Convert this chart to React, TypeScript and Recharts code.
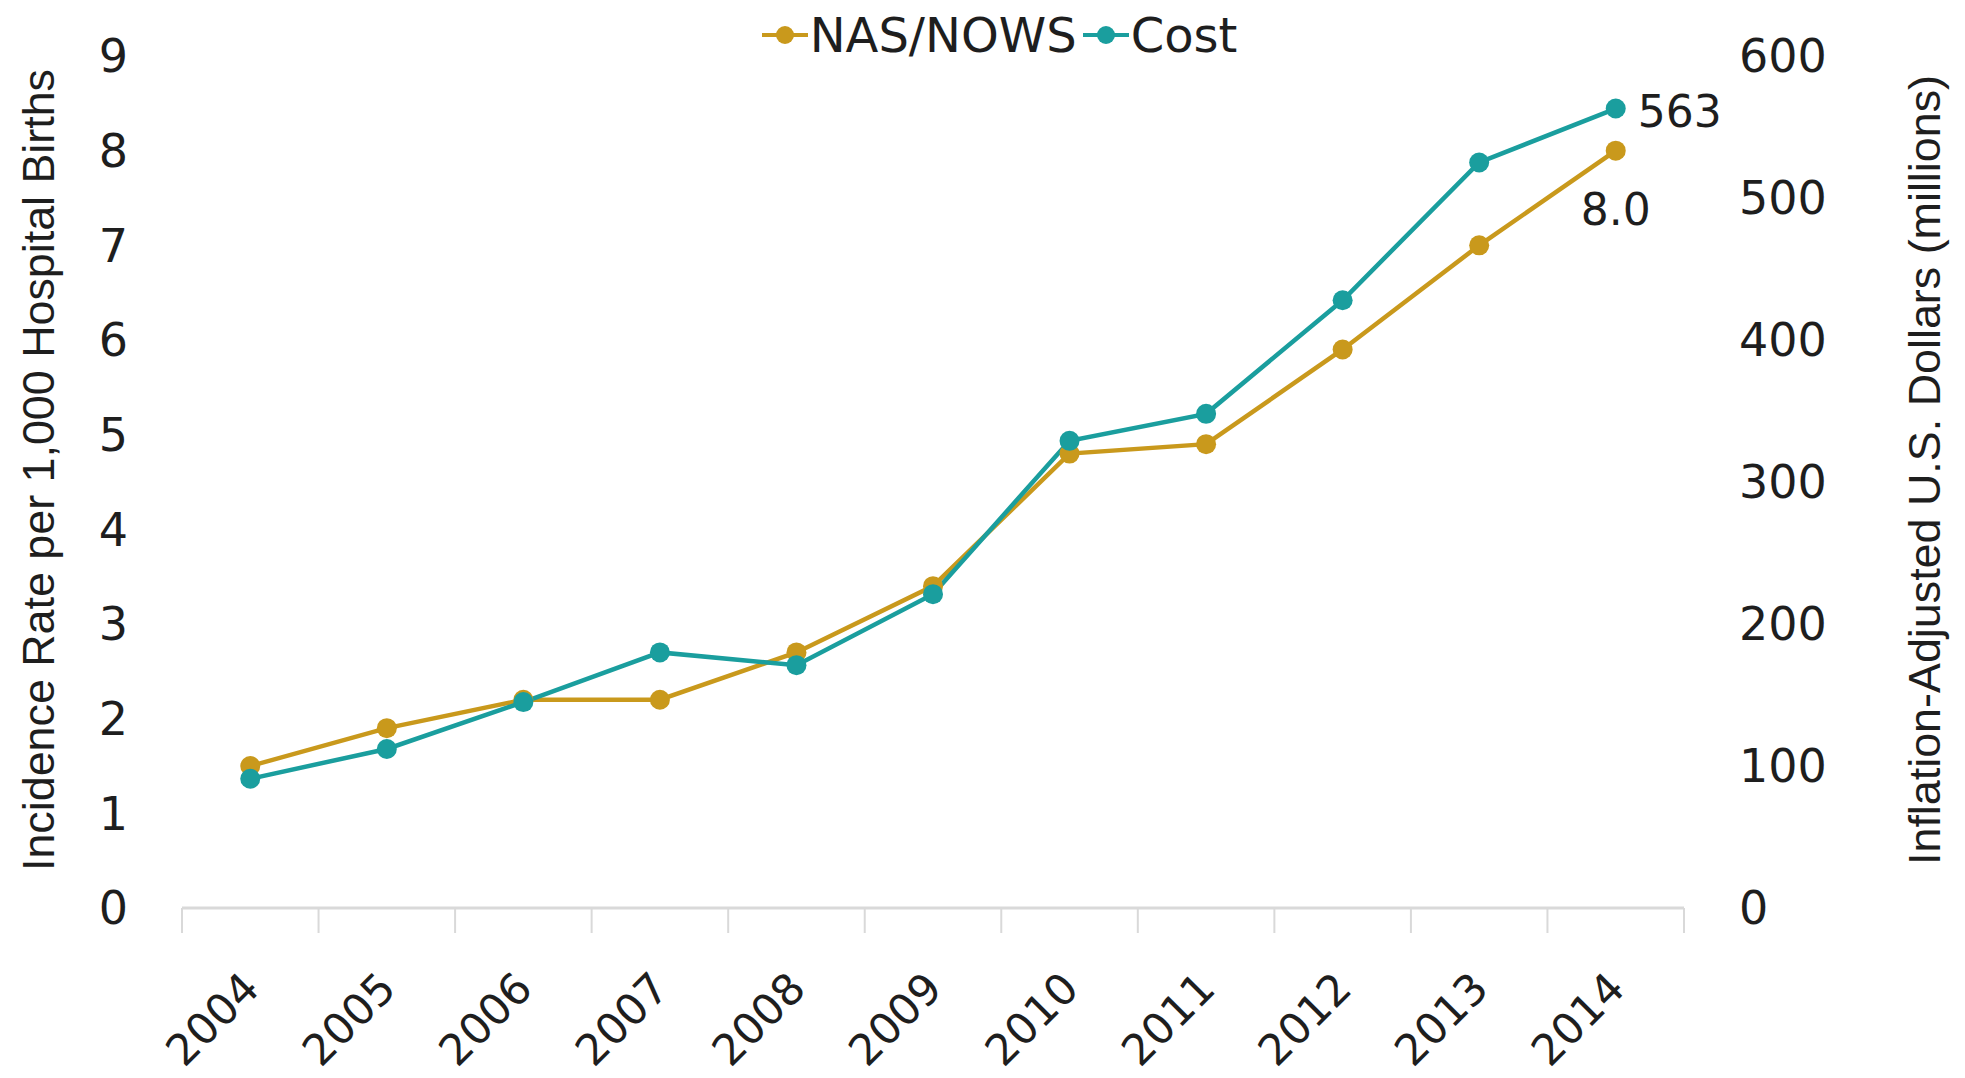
import {
  LineChart,
  Line,
  XAxis,
  YAxis,
  Legend,
} from "recharts";

const years = [2004, 2005, 2006, 2007, 2008, 2009, 2010, 2011, 2012, 2013, 2014];
const nasRate = [1.5, 1.9, 2.2, 2.2, 2.7, 3.4, 4.8, 4.9, 5.9, 7.0, 8.0];
const costMillions = [91, 112, 145, 180, 171, 221, 329, 348, 428, 525, 563];
const rateTicks = [0, 1, 2, 3, 4, 5, 6, 7, 8, 9];
const costTicks = [0, 100, 200, 300, 400, 500, 600];
// tick marks sit between years, like the original
const yearBounds = [...years.map((y) => y - 0.5), years[years.length - 1] + 0.5];

const GOLD = "#c9991c";
const TEAL = "#1a9e9e";
const TEXT = "#1e1e1e";
const AXIS = "#d9d9d9";
const TICK_FONT = "'DejaVu Sans', Verdana, sans-serif";
const TITLE_FONT = "'Liberation Sans Narrow', 'Liberation Sans', sans-serif";

const data = years.map((year, i) => ({
  year,
  nas: nasRate[i],
  cost: costMillions[i],
}));

const series = [
  { key: "nas", name: "NAS/NOWS", color: GOLD },
  { key: "cost", name: "Cost", color: TEAL },
];

function YearTick({ x, y, payload }: any) {
  return (
    <g transform={`translate(${x},${y})`}>
      <text
        x={-50}
        y={66}
        textAnchor="end"
        transform="rotate(-45)"
        fontFamily={TICK_FONT}
        fontSize={43}
        fill={TEXT}
      >
        {payload.value}
      </text>
    </g>
  );
}

function LegendContent() {
  return (
    <div
      style={{
        height: 56,
        boxSizing: "border-box",
        paddingTop: 14,
        paddingLeft: 40,
        display: "flex",
        justifyContent: "center",
        fontFamily: TICK_FONT,
        fontSize: 48,
        lineHeight: 1,
        color: TEXT,
      }}
    >
      {series.map((s) => (
        <span
          key={s.key}
          style={{ display: "flex", alignItems: "center", marginRight: 6 }}
        >
          <svg width={46} height={22} style={{ marginRight: 2 }}>
            <line x1={0} y1={11} x2={46} y2={11} stroke={s.color} strokeWidth={4} />
            <circle cx={23} cy={11} r={9} fill={s.color} />
          </svg>
          <span>{s.name}</span>
        </span>
      ))}
    </div>
  );
}

function lastLabel(offsetX: number, offsetY: number, anchor: string, format: (v: number) => string) {
  return (props: any) => {
    const { x, y, value, index } = props;
    if (index !== years.length - 1) return null;
    return (
      <text
        x={x + offsetX}
        y={y + offsetY}
        textAnchor={anchor}
        dominantBaseline="central"
        fontFamily={TICK_FONT}
        fontSize={44}
        fill={TEXT}
      >
        {format(value)}
      </text>
    );
  };
}

function AxisTitle(text: string, cx: number, length: number) {
  return (props: any) => {
    const vb = props.viewBox;
    const x = vb.x + cx;
    const y = vb.y + vb.height / 2 - 12;
    return (
      <text
        x={x}
        y={y}
        transform={`rotate(-90, ${x}, ${y})`}
        textAnchor="middle"
        dominantBaseline="central"
        fontFamily={TITLE_FONT}
        fontSize={44}
        textLength={length}
        lengthAdjust="spacingAndGlyphs"
        fill={TEXT}
      >
        {text}
      </text>
    );
  };
}

export default function App() {
  return (
    <div style={{ position: "absolute", left: 0, top: 0, background: "#fff" }}>
      <LineChart
        width={1965}
        height={1078}
        data={data}
        margin={{ top: 0, right: 0, bottom: 0, left: 0 }}
      >
        <Legend verticalAlign="top" align="center" content={<LegendContent />} />
        <XAxis
          xAxisId="bounds"
          dataKey="year"
          type="number"
          domain={[yearBounds[0], yearBounds[yearBounds.length - 1]]}
          allowDataOverflow
          ticks={yearBounds}
          interval={0}
          tick={() => <g />}
          tickSize={25}
          tickLine={{ stroke: AXIS, strokeWidth: 2 }}
          axisLine={{ stroke: AXIS, strokeWidth: 3 }}
          height={1}
        />
        <XAxis
          xAxisId="year"
          dataKey="year"
          type="number"
          domain={[yearBounds[0], yearBounds[yearBounds.length - 1]]}
          allowDataOverflow
          ticks={years}
          interval={0}
          axisLine={false}
          tickLine={false}
          tickSize={0}
          tickMargin={0}
          tick={<YearTick />}
          height={169}
        />
        <YAxis
          yAxisId="rate"
          orientation="left"
          width={182}
          domain={[0, 9]}
          ticks={rateTicks}
          interval={0}
          axisLine={false}
          tickLine={false}
          tickSize={6}
          tickMargin={48}
          tick={{ fontFamily: TICK_FONT, fontSize: 46, fill: TEXT }}
          label={{
            content: AxisTitle("Incidence Rate per 1,000 Hospital Births", 38, 802),
          }}
        />
        <YAxis
          yAxisId="cost"
          orientation="right"
          width={281}
          domain={[0, 600]}
          ticks={costTicks}
          interval={0}
          axisLine={false}
          tickLine={false}
          tickSize={6}
          tickMargin={49}
          tick={{ fontFamily: TICK_FONT, fontSize: 46, fill: TEXT }}
          label={{
            content: AxisTitle("Inflation-Adjusted U.S. Dollars (millions)", 240, 790),
          }}
        />
        <Line
          xAxisId="year"
          yAxisId="rate"
          dataKey="nas"
          name="NAS/NOWS"
          stroke={GOLD}
          strokeWidth={4.5}
          dot={{ r: 10, fill: GOLD, stroke: "none" }}
          activeDot={false}
          isAnimationActive={false}
          label={lastLabel(0, 59, "middle", (v) => v.toFixed(1))}
        />
        <Line
          xAxisId="year"
          yAxisId="cost"
          dataKey="cost"
          name="Cost"
          stroke={TEAL}
          strokeWidth={4.5}
          dot={{ r: 10, fill: TEAL, stroke: "none" }}
          activeDot={false}
          isAnimationActive={false}
          label={lastLabel(22, 3, "start", (v) => String(v))}
        />
      </LineChart>
    </div>
  );
}
